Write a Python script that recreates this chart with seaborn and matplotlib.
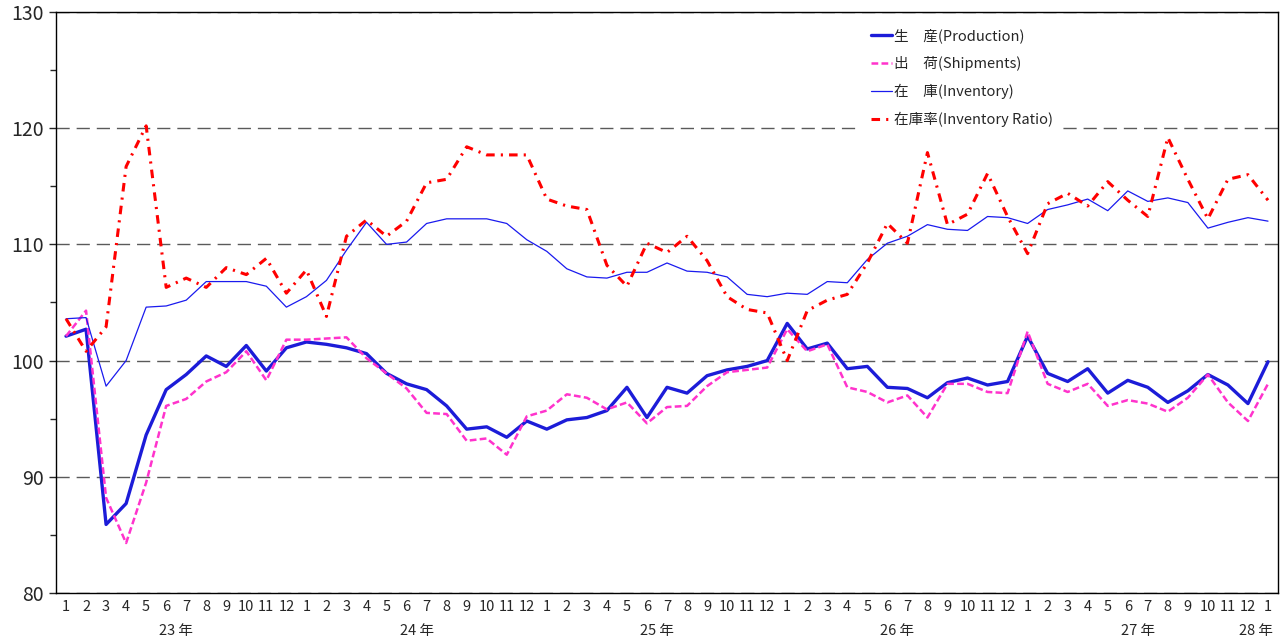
import numpy as np
import pandas as pd
import matplotlib
matplotlib.use("Agg")
import matplotlib.pyplot as plt
import matplotlib.transforms as mtransforms
from matplotlib.ticker import MultipleLocator
import seaborn as sns

# monthly index, 23年1月 .. 28年1月
months = [1, 2, 3, 4, 5, 6, 7, 8, 9, 10, 11, 12] * 5 + [1]
years = ["23 年", "24 年", "25 年", "26 年", "27 年", "28 年"]
year_pos = [5.5, 17.5, 29.5, 41.5, 53.5, 59.4]

production = [102.1, 102.7, 85.9, 87.7, 93.6, 97.5, 98.8, 100.4, 99.5, 101.3, 99.1, 101.1,
              101.6, 101.4, 101.1, 100.6, 98.9, 98.0, 97.5, 96.1, 94.1, 94.3, 93.4, 94.8,
              94.1, 94.9, 95.1, 95.7, 97.7, 95.1, 97.7, 97.2, 98.7, 99.2, 99.5, 100.0,
              103.2, 101.0, 101.5, 99.3, 99.5, 97.7, 97.6, 96.8, 98.1, 98.5, 97.9, 98.2,
              102.1, 98.9, 98.2, 99.3, 97.2, 98.3, 97.7, 96.4, 97.4, 98.8, 97.9, 96.3,
              99.9]
shipments = [102.1, 104.3, 88.2, 84.3, 89.5, 96.1, 96.7, 98.2, 99.0, 100.8, 98.3, 101.8,
             101.8, 101.9, 102.0, 100.2, 98.9, 97.6, 95.5, 95.4, 93.1, 93.3, 91.9, 95.2,
             95.7, 97.1, 96.8, 95.8, 96.4, 94.6, 96.0, 96.1, 97.8, 99.0, 99.2, 99.4,
             102.7, 100.8, 101.4, 97.7, 97.3, 96.4, 97.0, 95.1, 98.0, 98.0, 97.3, 97.2,
             102.5, 98.0, 97.3, 98.0, 96.1, 96.6, 96.3, 95.6, 96.8, 98.8, 96.4, 94.8,
             98.0]
inventory = [103.6, 103.7, 97.8, 100.0, 104.6, 104.7, 105.2, 106.8, 106.8, 106.8, 106.4, 104.6,
             105.5, 106.9, 109.5, 111.9, 110.0, 110.2, 111.8, 112.2, 112.2, 112.2, 111.8, 110.4,
             109.4, 107.9, 107.2, 107.1, 107.6, 107.6, 108.4, 107.7, 107.6, 107.2, 105.7, 105.5,
             105.8, 105.7, 106.8, 106.7, 108.7, 110.1, 110.7, 111.7, 111.3, 111.2, 112.4, 112.3,
             111.8, 113.0, 113.4, 113.9, 112.9, 114.6, 113.7, 114.0, 113.6, 111.4, 111.9, 112.3,
             112.0]
inv_ratio = [103.6, 100.8, 102.9, 116.7, 120.2, 106.3, 107.1, 106.3, 108.0, 107.4, 108.8, 105.8,
             107.8, 103.8, 110.7, 112.1, 110.7, 112.0, 115.3, 115.6, 118.4, 117.7, 117.7, 117.7,
             113.9, 113.3, 113.0, 108.2, 106.4, 110.1, 109.3, 110.7, 108.6, 105.5, 104.4, 104.1,
             100.0, 104.3, 105.2, 105.7, 108.4, 111.8, 110.1, 117.9, 111.7, 112.6, 116.1, 112.4,
             109.2, 113.5, 114.4, 113.3, 115.4, 113.8, 112.4, 119.2, 115.6, 112.2, 115.6, 116.0,
             113.8]

labels = ["生\u3000産(Production)", "出\u3000荷(Shipments)",
          "在\u3000庫(Inventory)", "在庫率(Inventory Ratio)"]

df = pd.DataFrame({"t": np.arange(len(months)),
                   "production": production, "shipments": shipments,
                   "inventory": inventory, "ratio": inv_ratio})

sns.set_style("white")
plt.rcParams["font.family"] = ["Noto Sans CJK JP", "DejaVu Sans"]

fig = plt.figure(figsize=(12.8, 6.41), dpi=100)
ax = fig.add_axes([0.04375, 0.0749, 0.9547, 0.9064])

sns.lineplot(data=df, x="t", y="production", ax=ax, color="#1c1cd8", lw=2.4, label=labels[0])
sns.lineplot(data=df, x="t", y="shipments", ax=ax, color="#ff33cc", lw=1.8, label=labels[1])
ax.lines[-1].set_dashes((2.7, 1.3))
sns.lineplot(data=df, x="t", y="inventory", ax=ax, color="#1a1aee", lw=0.9, label=labels[2])
sns.lineplot(data=df, x="t", y="ratio", ax=ax, color="#ff0000", lw=2.2, label=labels[3])
ax.lines[-1].set_dashes((2.8, 2.0, 0.7, 2.0))

ax.set_xlim(-0.5, 60.5)
ax.set_ylim(80, 130)
ax.yaxis.set_major_locator(MultipleLocator(10))
ax.yaxis.set_minor_locator(MultipleLocator(5))
ax.grid(axis="y", which="major", color="#5a5a5a", linestyle=(0, (9.5, 5)), linewidth=1)
ax.set_axisbelow(True)

ax.set_xticks(df["t"])
ax.set_xticklabels([str(m) for m in months], fontsize=10.5)
ax.tick_params(axis="x", length=0, pad=5)
ax.tick_params(axis="y", which="major", left=True, length=5, width=1, labelsize=14, pad=4)
ax.tick_params(axis="y", which="minor", left=True, length=4, width=1)
ax.set_xlabel("")
ax.set_ylabel("")

for s in ax.spines.values():
    s.set_color("black")
    s.set_linewidth(1)

trans = mtransforms.blended_transform_factory(ax.transData, ax.transAxes)
for yl, xp in zip(years, year_pos):
    ax.text(xp, -0.065, yl, transform=trans, ha="center", va="center", fontsize=10.5)

leg = ax.legend(loc="upper left", bbox_to_anchor=(0.654, 0.999), fontsize=10.5,
                frameon=True, fancybox=False, framealpha=1, edgecolor="white",
                handlelength=1.4, handletextpad=0.15, labelspacing=0.88, borderpad=0.6)
leg.get_frame().set_linewidth(0)

fig.savefig("out.png", dpi=100)
